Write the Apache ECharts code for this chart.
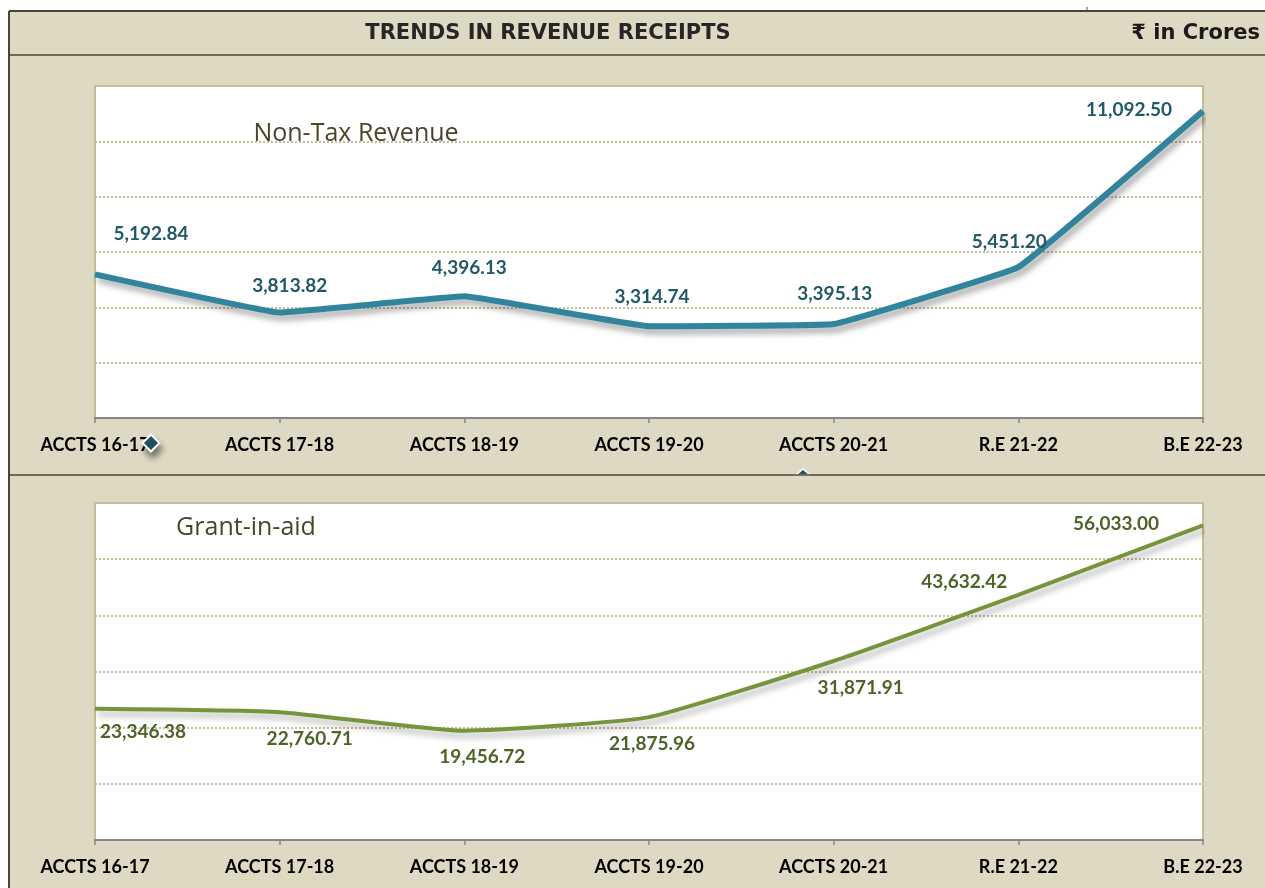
<!DOCTYPE html>
<html>
<head>
<meta charset="utf-8">
<script src="https://cdn.jsdelivr.net/npm/echarts@6/dist/echarts.min.js"></script>
<style>
html,body{margin:0;padding:0;background:#fff;}
#chart{width:1265px;height:888px;}
</style>
</head>
<body>
<div id="chart"></div>
<script>
const categories = ['ACCTS 16-17','ACCTS 17-18','ACCTS 18-19','ACCTS 19-20','ACCTS 20-21','R.E 21-22','B.E 22-23'];
const nonTaxRevenue = [5192.84, 3813.82, 4396.13, 3314.74, 3395.13, 5451.20, 11092.50];
const grantInAid = [23346.38, 22760.71, 19456.72, 21875.96, 31871.91, 43632.42, 56033.00];
const nonTaxLabelOffsets = [[56,-40],[10,-27],[5,-28],[3,-29],[1,-30],[-9,-25],[-74,-1]];
const grantLabelOffsets = [[48,23],[30,27],[18,26],[3,27],[27,27],[-54,-13],[-87,-1]];
const chartTitle = 'TRENDS IN REVENUE RECEIPTS';
const unitText = '₹ in Crores';
const panelTitles = ['Non-Tax Revenue', 'Grant-in-aid'];

const fmt = v => v.toLocaleString('en-US', {minimumFractionDigits: 2, maximumFractionDigits: 2});
const LABEL_FONT = 'Lato, "Noto Sans", sans-serif';
const HEAD_FONT = '"DejaVu Sans", "Noto Sans", sans-serif';
const BORDER = '#4B4533';
const TAN = '#C4BD97';

function seriesData(vals, offs) {
  return vals.map((v, i) => ({ value: v, label: { offset: offs[i] } }));
}

const chart = echarts.init(document.getElementById('chart'));
const xAxisBase = (gi) => ({
  type: 'category', gridIndex: gi, data: categories, boundaryGap: false,
  axisLine: { show: true, lineStyle: { color: '#868686', width: 2 } },
  axisTick: { show: true, length: 5, lineStyle: { color: '#868686', width: 1.5 } },
  axisLabel: { color: '#000', fontFamily: LABEL_FONT, fontWeight: 'bold', fontSize: 18, margin: 18, interval: 0 }
});
const yAxisBase = (gi, max, interval) => ({
  type: 'value', gridIndex: gi, min: 0, max: max, interval: interval,
  axisLine: { show: false }, axisTick: { show: false }, axisLabel: { show: false },
  splitLine: { show: true, lineStyle: { color: TAN, width: 2, type: [2, 2] } }
});

chart.setOption({
  backgroundColor: '#DDD9C3',
  animation: false,
  grid: [
    { left: 95, top: 86, width: 1108, height: 332, show: true, backgroundColor: '#fff', borderColor: TAN, borderWidth: 2 },
    { left: 95, top: 503, width: 1108, height: 337, show: true, backgroundColor: '#fff', borderColor: TAN, borderWidth: 2 }
  ],
  xAxis: [xAxisBase(0), xAxisBase(1)],
  yAxis: [yAxisBase(0, 12000, 2000), yAxisBase(1, 60000, 10000)],
  series: [
    {
      type: 'line', xAxisIndex: 0, yAxisIndex: 0, name: panelTitles[0],
      data: seriesData(nonTaxRevenue, nonTaxLabelOffsets),
      smooth: 0.06, symbol: 'circle', symbolSize: 1, showSymbol: true,
      itemStyle: { color: 'rgba(0,0,0,0)' },
      lineStyle: { color: '#31849B', width: 6, shadowColor: 'rgba(0,0,0,0.35)', shadowBlur: 6, shadowOffsetX: 3, shadowOffsetY: 5 },
      label: { show: true, position: 'inside', formatter: p => fmt(p.value), color: '#215968', fontFamily: LABEL_FONT, fontWeight: 'bold', fontSize: 19 },
      z: 5
    },
    {
      type: 'line', xAxisIndex: 1, yAxisIndex: 1, name: panelTitles[1],
      data: seriesData(grantInAid, grantLabelOffsets),
      smooth: 0.15, symbol: 'circle', symbolSize: 1, showSymbol: true,
      itemStyle: { color: 'rgba(0,0,0,0)' },
      lineStyle: { color: '#77933C', width: 4, shadowColor: 'rgba(0,0,0,0.3)', shadowBlur: 6, shadowOffsetX: 3, shadowOffsetY: 5 },
      label: { show: true, position: 'inside', formatter: p => fmt(p.value), color: '#4F6228', fontFamily: LABEL_FONT, fontWeight: 'bold', fontSize: 19 },
      z: 5
    }
  ],
  graphic: [
    { type: 'rect', shape: { x: 0, y: 0, width: 1265, height: 11 }, style: { fill: '#fff' }, z: 50 },
    { type: 'rect', shape: { x: 0, y: 0, width: 9, height: 888 }, style: { fill: '#fff' }, z: 50 },
    { type: 'line', shape: { x1: 9, y1: 11, x2: 1265, y2: 11 }, style: { stroke: BORDER, lineWidth: 2 }, z: 60 },
    { type: 'line', shape: { x1: 1087, y1: 7, x2: 1087, y2: 11 }, style: { stroke: BORDER, lineWidth: 1 }, z: 60 },
    { type: 'line', shape: { x1: 9, y1: 11, x2: 9, y2: 888 }, style: { stroke: BORDER, lineWidth: 2 }, z: 60 },
    { type: 'line', shape: { x1: 9, y1: 55, x2: 1265, y2: 55 }, style: { stroke: BORDER, lineWidth: 1.5 }, z: 60 },
    { type: 'line', shape: { x1: 9, y1: 475, x2: 1265, y2: 475 }, style: { stroke: BORDER, lineWidth: 1.5 }, z: 60 },
    { type: 'text', x: 548, y: 34, style: { text: chartTitle, fill: '#262626', font: 'bold 21px ' + HEAD_FONT, textAlign: 'center', textVerticalAlign: 'middle' }, z: 60 },
    { type: 'text', x: 1260, y: 34, style: { text: unitText, fill: '#1a1a1a', font: 'bold 21px ' + HEAD_FONT, textAlign: 'right', textVerticalAlign: 'middle' }, z: 60 },
    { type: 'text', x: 356, y: 134, style: { text: panelTitles[0], fill: '#4A452A', font: '25px "Open Sans", sans-serif', textAlign: 'center', textVerticalAlign: 'middle' }, z: 60 },
    { type: 'text', x: 246, y: 528, style: { text: panelTitles[1], fill: '#4A452A', font: '25px "Open Sans", sans-serif', textAlign: 'center', textVerticalAlign: 'middle' }, z: 60 },
    { type: 'rect', shape: { x: -6, y: -6, width: 12, height: 12 }, x: 151, y: 443, rotation: Math.PI / 4,
      style: { fill: '#215968', stroke: '#fff', lineWidth: 2, shadowColor: 'rgba(0,0,0,0.45)', shadowBlur: 6, shadowOffsetX: 2, shadowOffsetY: 6 }, z: 60 },
    { type: 'polygon', shape: { points: [[796, 475], [803, 469], [810, 475]] }, style: { fill: '#215968', stroke: '#fff', lineWidth: 1.5 }, z: 59 }
  ]
});
</script>
</body>
</html>
